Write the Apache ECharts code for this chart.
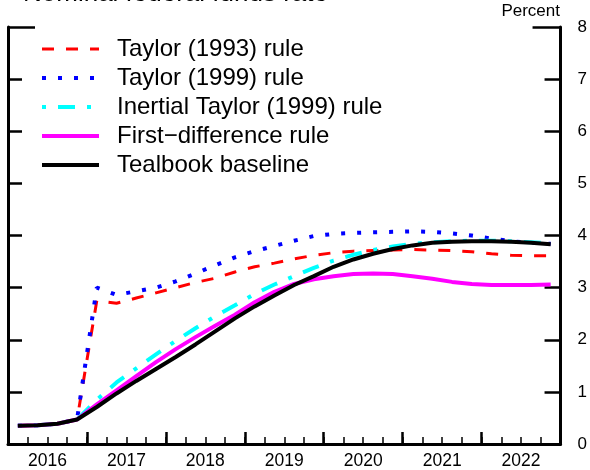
<!DOCTYPE html>
<html>
<head>
<meta charset="utf-8">
<script src="https://cdn.jsdelivr.net/npm/echarts@6/dist/echarts.min.js"></script>
<style>html,body{margin:0;padding:0;background:#fff}#c{width:590px;height:470px}</style>
</head>
<body>
<div id="c"></div>
<script>
// Quarters 2016Q1 .. 2022Q4
var quarters = ['2016Q1','2016Q2','2016Q3','2016Q4',
  '2017Q1','2017Q2','2017Q3','2017Q4',
  '2018Q1','2018Q2','2018Q3','2018Q4',
  '2019Q1','2019Q2','2019Q3','2019Q4',
  '2020Q1','2020Q2','2020Q3','2020Q4',
  '2021Q1','2021Q2','2021Q3','2021Q4',
  '2022Q1','2022Q2','2022Q3','2022Q4'];
var yearLabels = ['2016','2017','2018','2019','2020','2021','2022'];
var yTicks = [0,1,2,3,4,5,6,7,8];

var taylor1993 = [0.35,0.36,0.39,0.47, 2.75,2.70,2.80,2.90, 3.00,3.10,3.18,3.30, 3.40,3.47,3.55,3.62, 3.67,3.70,3.71,3.72, 3.73,3.72,3.71,3.69, 3.65,3.62,3.61,3.61];
var taylor1999 = [0.35,0.36,0.39,0.47, 3.00,2.86,2.93,3.00, 3.12,3.27,3.43,3.58, 3.70,3.80,3.90,3.99, 4.03,4.05,4.06,4.07, 4.08,4.07,4.04,4.00, 3.94,3.89,3.86,3.84];
var inertial1999 = [0.35,0.36,0.39,0.47, 0.85,1.18,1.45,1.72, 1.98,2.22,2.45,2.66, 2.88,3.06,3.22,3.38, 3.52,3.63,3.72,3.79, 3.84,3.87,3.89,3.90, 3.90,3.89,3.87,3.85];
var firstDiff = [0.35,0.36,0.39,0.47, 0.76,1.03,1.30,1.57, 1.82,2.05,2.27,2.48, 2.72,2.92,3.07,3.16, 3.22,3.26,3.27,3.26, 3.22,3.17,3.11,3.07, 3.05,3.05,3.05,3.06];
var tealbook = [0.35,0.36,0.39,0.47, 0.71,0.97,1.21,1.44, 1.67,1.91,2.16,2.41, 2.64,2.85,3.05,3.22, 3.40,3.54,3.65,3.74, 3.81,3.86,3.88,3.89, 3.89,3.88,3.86,3.83];

var names = ['Taylor (1993) rule','Taylor (1999) rule','Inertial Taylor (1999) rule','First\u2212difference rule','Tealbook baseline'];

function qx(q){ var y = parseInt(q.slice(0,4),10); var n = parseInt(q.slice(5),10); return y + (n-0.5)/4; }
function pairs(vals){ return quarters.map(function(q,i){ return [qx(q), vals[i]]; }); }

var FONT = 'Liberation Sans, Arial, sans-serif';
var xmin = parseInt(yearLabels[0],10), xmax = parseInt(yearLabels[yearLabels.length-1],10)+1;

var baseX = {type:'value', position:'bottom', offset:0, min:xmin, max:xmax, splitLine:{show:false}, axisLabel:{show:false}, axisLine:{show:false}, axisTick:{show:false}};
function mk(o){ var r = JSON.parse(JSON.stringify(baseX)); for (var k in o) r[k]=o[k]; return r; }

var styles = [
  {color:'#ff0000', width:3, type:[12,12]},
  {color:'#0000ff', width:4, type:[4,12]},
  {color:'#00ffff', width:4, type:[4,12,17,12]},
  {color:'#ff00ff', width:4, type:'solid'},
  {color:'#000000', width:4, type:'solid'}
];
var seriesData = [taylor1993, taylor1999, inertial1999, firstDiff, tealbook];

var chart = echarts.init(document.getElementById('c'), null, {renderer:'canvas'});
var option = {
  animation:false,
  backgroundColor:'#fff',
  title:[
    {text:'Nominal federal funds rate', left:18, top:-24, textStyle:{fontFamily:FONT, fontSize:26, fontWeight:'normal', color:'#000'}},
    {text:'Percent', right:25, top:-2, textStyle:{fontFamily:FONT, fontSize:17, fontWeight:'normal', color:'#000'}}
  ],
  grid:{left:8, right:29, top:27, bottom:26, containLabel:false},
  legend:{
    left:40, top:37, padding:0, orient:'vertical', itemWidth:57, itemHeight:18, itemGap:5,
    itemStyle:{opacity:0},
    textStyle:{fontFamily:FONT, fontSize:24, lineHeight:24, color:'#000', padding:[0,0,0,13]},
    data:names.map(function(n,i){ return {name:n, lineStyle:{width:styles[i].width, type:styles[i].type, color:styles[i].color}}; })
  },
  xAxis:[
    mk({interval:1, axisLine:{show:true, lineStyle:{color:'#000', width:3}}, axisTick:{show:true, inside:true, length:12, lineStyle:{color:'#000', width:2.5}}}),
    mk({interval:0.25, axisTick:{show:true, inside:true, length:7, lineStyle:{color:'#000', width:1.5}}}),
    mk({interval:0.5, axisLabel:{show:true, margin:8, fontFamily:FONT, fontSize:17.5, color:'#000',
      formatter:function(v){ return (v % 1 === 0.5) ? yearLabels[Math.floor(v)-xmin] : ''; }}})
  ],
  yAxis:[
    {type:'value', position:'right', min:yTicks[0], max:yTicks[yTicks.length-1], interval:1, splitLine:{show:false},
      axisLine:{show:true, lineStyle:{color:'#000', width:3}},
      axisTick:{show:true, inside:true, length:16, lineStyle:{color:'#000', width:2.5}},
      axisLabel:{show:true, margin:17, fontFamily:FONT, fontSize:17, color:'#000'}},
    {type:'value', position:'left', min:yTicks[0], max:yTicks[yTicks.length-1], interval:1, splitLine:{show:false},
      axisLine:{show:true, lineStyle:{color:'#000', width:3}},
      axisTick:{show:true, inside:true, length:14, lineStyle:{color:'#000', width:2.5}},
      axisLabel:{show:false}},
    {type:'value', position:'left', min:yTicks[0], max:yTicks[yTicks.length-1], interval:8, splitLine:{show:false},
      axisLine:{show:false}, axisTick:{show:true, inside:true, length:27, lineStyle:{color:'#000', width:2.5}}, axisLabel:{show:false}},
    {type:'value', position:'right', min:yTicks[0], max:yTicks[yTicks.length-1], interval:8, splitLine:{show:false},
      axisLine:{show:false}, axisTick:{show:true, inside:true, length:28, lineStyle:{color:'#000', width:2.5}}, axisLabel:{show:false}}
  ],
  series:names.map(function(n,i){
    return {name:n, type:'line', data:pairs(seriesData[i]), symbol:'none',
      lineStyle:{color:styles[i].color, width:styles[i].width, type:styles[i].type}, itemStyle:{color:styles[i].color}};
  })
};
chart.setOption(option);
</script>
</body>
</html>
